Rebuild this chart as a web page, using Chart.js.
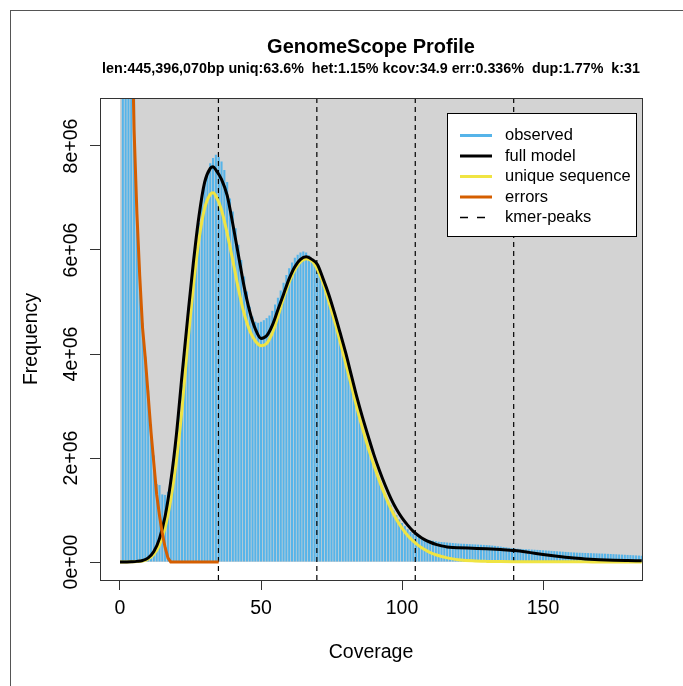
<!DOCTYPE html>
<html><head><meta charset="utf-8">
<script src="https://cdn.jsdelivr.net/npm/chart.js@4.4.1/dist/chart.umd.min.js"></script>
<style>html,body{margin:0;padding:0;background:#fff;}canvas{display:block;}</style>
</head><body>
<canvas id="c" width="683" height="686"></canvas>
<script>
// ---- texts ----
const titleText = 'GenomeScope Profile';
const subtitleText = 'len:445,396,070bp uniq:63.6%  het:1.15% kcov:34.9 err:0.336%  dup:1.77%  k:31';
const xTitle = 'Coverage';
const yTitle = 'Frequency';
const seriesNames = ['observed', 'full model', 'unique sequence', 'errors', 'kmer-peaks'];

// ---- ticks ----
const xTickValues = [0, 50, 100, 150];
const yTickValues = [0, 2e6, 4e6, 6e6, 8e6];
const yTickLabels = ['0e+00', '2e+06', '4e+06', '6e+06', '8e+06'];

// ---- data (frequencies in millions) ----
const kmerPeaks = [34.9, 69.8, 104.7, 139.6];

// observed histogram, coverage 1..185
const observedMillions = [
  80, 45, 25, 15, 9.6, 6.8, 5.6, 4.6, 3.95, 3.3,
  2.65, 2.05, 1.5, 1.48, 1.3, 1.29, 1.35, 1.6, 1.95, 2.35,
  2.85, 3.4, 4.0, 4.5, 4.98, 5.56, 6.06, 6.52, 6.96, 7.29,
  7.48, 7.67, 7.77, 7.83, 7.79, 7.70, 7.54, 7.31, 6.99, 6.74,
  6.42, 6.10, 5.81, 5.49, 5.20, 4.91, 4.72, 4.62, 4.60, 4.62,
  4.65, 4.69, 4.74, 4.83, 4.95, 5.08, 5.22, 5.37, 5.52, 5.65,
  5.76, 5.85, 5.91, 5.95, 5.97, 5.95, 5.90, 5.82, 5.72, 5.60,
  5.48, 5.36, 5.22, 5.08, 4.90, 4.70, 4.48, 4.28, 4.08, 3.88,
  3.66, 3.45, 3.22, 3.00, 2.78, 2.58, 2.38, 2.20, 2.02, 1.86,
  1.70, 1.56, 1.43, 1.31, 1.19, 1.09, 0.99, 0.90, 0.82, 0.75,
  0.69, 0.63, 0.58, 0.54, 0.51, 0.48, 0.46, 0.44, 0.43, 0.42,
  0.41, 0.40, 0.39, 0.385, 0.38, 0.375, 0.37, 0.365, 0.36, 0.355,
  0.352, 0.35, 0.347, 0.344, 0.341, 0.338, 0.335, 0.332, 0.329, 0.326,
  0.322, 0.316, 0.31, 0.303, 0.296, 0.289, 0.281, 0.273, 0.266, 0.26,
  0.256, 0.252, 0.248, 0.245, 0.242, 0.239, 0.236, 0.233, 0.23, 0.226,
  0.222, 0.218, 0.214, 0.21, 0.206, 0.202, 0.198, 0.194, 0.19, 0.186,
  0.183, 0.18, 0.178, 0.176, 0.174, 0.172, 0.17, 0.168, 0.166, 0.164,
  0.162, 0.16, 0.157, 0.154, 0.151, 0.148, 0.145, 0.142, 0.139, 0.136,
  0.133, 0.13, 0.127, 0.124, 0.121
];

// model curves sampled at these coverages
const modelCoverage = [
  0, 2, 4, 6, 8, 10, 12, 14, 16, 18, 20, 22, 24, 26, 28, 30, 32, 33, 34, 36, 38, 40,
  42, 44, 46, 48, 50, 52, 54, 56, 58, 60, 62, 64, 66, 68, 70, 72, 74, 76, 78, 80,
  82, 84, 86, 88, 90, 92, 94, 96, 98, 100, 102, 104, 106, 108, 110, 112, 114, 116, 118, 120,
  125, 130, 135, 140, 145, 150, 155, 160, 165, 170, 175, 180, 185
];
const fullModelMillions = [
  0, 0.002, 0.005, 0.012, 0.03, 0.08, 0.2, 0.45, 0.88, 1.55, 2.45, 3.6, 4.7, 5.75, 6.65, 7.3, 7.57, 7.6, 7.54, 7.36, 7.05, 6.5,
  5.9, 5.3, 4.82, 4.48, 4.3, 4.35, 4.55, 4.85, 5.15, 5.45, 5.68, 5.82, 5.87, 5.82, 5.72, 5.45, 5.15, 4.8, 4.42, 4.03,
  3.6, 3.17, 2.78, 2.42, 2.07, 1.76, 1.48, 1.23, 1.02, 0.85, 0.71, 0.59, 0.5, 0.43, 0.38, 0.34, 0.31, 0.29, 0.28, 0.275,
  0.265, 0.255, 0.24, 0.22, 0.185, 0.145, 0.11, 0.08, 0.06, 0.045, 0.035, 0.028, 0.022
];
const uniqueMillions = [
  0, 0.001, 0.003, 0.008, 0.02, 0.06, 0.15, 0.33, 0.66, 1.2, 1.95, 2.95, 4.2, 5.3, 6.2, 6.8, 7.07, 7.1, 7.04, 6.77, 6.32, 5.8,
  5.25, 4.78, 4.45, 4.25, 4.16, 4.2, 4.4, 4.72, 5.08, 5.38, 5.62, 5.77, 5.83, 5.79, 5.63, 5.37, 5.02, 4.65, 4.25, 3.83,
  3.4, 2.97, 2.57, 2.2, 1.87, 1.56, 1.28, 1.03, 0.82, 0.65, 0.51, 0.4, 0.31, 0.24, 0.18, 0.14, 0.105, 0.08, 0.06, 0.045,
  0.022, 0.012, 0.008, 0.006, 0.005, 0.004, 0.004, 0.003, 0.003, 0.002, 0.002, 0.002, 0.002
];

// error k-mers, coverage 1..35
const errorsMillions = [
  45, 25, 16, 11, 8.3, 6.7, 5.5, 4.5, 3.9, 3.2,
  2.5, 1.9, 1.3, 0.9, 0.55, 0.28, 0.08, 0, 0, 0,
  0, 0, 0, 0, 0, 0, 0, 0, 0, 0,
  0, 0, 0, 0, 0
];

// ---- styles ----
const COL_HIST = '#56B4E9', COL_FULL = '#000000', COL_UNIQ = '#F0E442', COL_ERR = '#D55E00', COL_PEAK = '#000000';
const FONT = 'Liberation Sans, Arial, Helvetica, sans-serif';
const X_MIN = -7.09, X_MAX = 185.1, Y_MIN = -0.346e6, Y_MAX = 8.923e6;
const M = 1e6;

const histData = observedMillions.map((v, i) => ({ x: i + 1, y: v * M }));
const fullData = modelCoverage.map((c, i) => ({ x: c, y: fullModelMillions[i] * M }));
const uniqData = modelCoverage.map((c, i) => ({ x: c, y: uniqueMillions[i] * M }));
const errData = errorsMillions.map((v, i) => ({ x: i + 1, y: v * M }));

const peakSets = kmerPeaks.map(p => ({
  type: 'line', label: seriesNames[4], data: [{ x: p, y: Y_MIN }, { x: p, y: Y_MAX }],
  borderColor: COL_PEAK, borderWidth: 1.2, borderDash: [5, 4], pointRadius: 0, clip: 0, order: 4
}));

const decor = {
  id: 'decor',
  beforeDraw(chart) {
    const ctx = chart.ctx;
    ctx.save(); ctx.fillStyle = '#ffffff'; ctx.fillRect(0, 0, chart.width, chart.height); ctx.restore();
  },
  beforeDatasetsDraw(chart) {
    const { ctx, chartArea: a, scales: { x, y } } = chart;
    const x0 = x.getPixelForValue(0), y0 = y.getPixelForValue(0);
    ctx.save();
    ctx.fillStyle = '#D3D3D3';
    ctx.fillRect(x0, a.top, a.right - x0, y0 - a.top);
    ctx.restore();
  },
  afterDraw(chart) {
    const { ctx, chartArea: a } = chart;
    ctx.save();
    // plot frame
    ctx.strokeStyle = '#333'; ctx.lineWidth = 1;
    ctx.strokeRect(Math.round(a.left) + 0.5, Math.round(a.top) + 0.5, Math.round(a.right - a.left), Math.round(a.bottom - a.top));
    // outer figure border
    ctx.strokeStyle = '#555';
    ctx.strokeRect(10.5, 10.5, 800, 800);
    // titles
    const cx = (a.left + a.right) / 2;
    ctx.fillStyle = '#000'; ctx.textAlign = 'center'; ctx.textBaseline = 'middle';
    ctx.font = 'bold 20px ' + FONT;
    ctx.fillText(titleText, cx, 47);
    ctx.font = 'bold 14.3px ' + FONT;
    ctx.fillText(subtitleText, cx, 69);
    // legend
    const L = { left: 447, top: 113, w: 189, h: 123 };
    ctx.fillStyle = '#fff';
    ctx.fillRect(L.left, L.top, L.w, L.h);
    ctx.strokeStyle = '#000'; ctx.lineWidth = 1;
    ctx.strokeRect(L.left + 0.5, L.top + 0.5, L.w, L.h);
    const styles = [
      { c: COL_HIST, w: 3, d: [] }, { c: COL_FULL, w: 3, d: [] }, { c: COL_UNIQ, w: 3, d: [] },
      { c: COL_ERR, w: 3, d: [] }, { c: COL_PEAK, w: 1.5, d: [8, 9] }
    ];
    ctx.font = '16.5px ' + FONT; ctx.textAlign = 'left';
    seriesNames.forEach((name, i) => {
      const yy = 135.5 + i * 20.5;
      ctx.beginPath(); ctx.setLineDash(styles[i].d);
      ctx.strokeStyle = styles[i].c; ctx.lineWidth = styles[i].w;
      ctx.moveTo(460, yy); ctx.lineTo(492, yy); ctx.stroke();
      ctx.setLineDash([]);
      ctx.fillStyle = '#000';
      ctx.fillText(name, 505, yy);
    });
    ctx.restore();
  }
};

const axisFont = { family: FONT, size: 19.5 };

new Chart(document.getElementById('c'), {
  type: 'line',
  data: {
    datasets: [
      { type: 'line', label: seriesNames[3], data: errData, borderColor: COL_ERR, borderWidth: 3, pointRadius: 0, tension: 0, clip: 0, order: 1 },
      { type: 'line', label: seriesNames[1], data: fullData, borderColor: COL_FULL, borderWidth: 3, pointRadius: 0, cubicInterpolationMode: 'monotone', clip: 0, order: 2 },
      { type: 'line', label: seriesNames[2], data: uniqData, borderColor: COL_UNIQ, borderWidth: 3, pointRadius: 0, cubicInterpolationMode: 'monotone', clip: 0, order: 3 },
      ...peakSets,
      { type: 'bar', label: seriesNames[0], data: histData, backgroundColor: COL_HIST, barThickness: 2.1, inflateAmount: 0, borderWidth: 0, order: 10 }
    ]
  },
  options: {
    responsive: false, animation: false, devicePixelRatio: 1, events: [],
    layout: { padding: { left: 0, right: 41, top: 98, bottom: 0 } },
    plugins: { legend: { display: false }, tooltip: { enabled: false }, title: { display: false } },
    scales: {
      x: {
        type: 'linear', min: X_MIN, max: X_MAX, offset: false,
        afterBuildTicks: s => { s.ticks = xTickValues.map(v => ({ value: v })); },
        afterFit: s => { s.height = 106; },
        grid: { drawOnChartArea: false, drawTicks: true, tickLength: 10, color: '#333', lineWidth: 1, offset: false },
        border: { display: true, color: '#333', width: 1 },
        ticks: { font: axisFont, color: '#000', padding: 7, maxRotation: 0, minRotation: 0, autoSkip: false, callback: v => String(v) },
        title: { display: true, text: xTitle, font: axisFont, color: '#000', padding: { top: 0, bottom: 22 } }
      },
      y: {
        type: 'linear', min: Y_MIN, max: Y_MAX,
        afterBuildTicks: s => { s.ticks = yTickValues.map(v => ({ value: v })); },
        afterFit: s => { s.width = 100; },
        grid: { drawOnChartArea: false, drawTicks: true, tickLength: 10, color: '#333', lineWidth: 1 },
        border: { display: true, color: '#333', width: 1 },
        ticks: { font: axisFont, color: '#000', padding: -9, minRotation: 90, maxRotation: 90, crossAlign: 'center', autoSkip: false,
          callback: v => yTickLabels[yTickValues.indexOf(v)] },
        title: { display: true, text: yTitle, font: axisFont, color: '#000', padding: { top: 20, bottom: 0 } }
      }
    }
  },
  plugins: [decor]
});
</script>
</body></html>
